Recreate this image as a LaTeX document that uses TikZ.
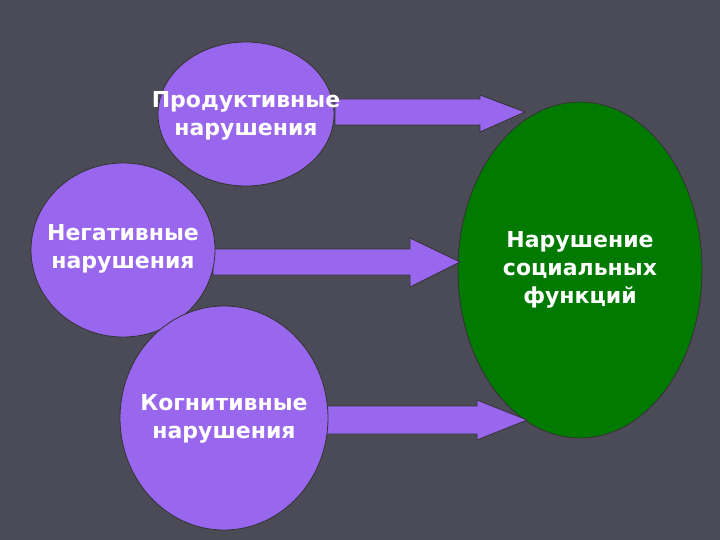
\documentclass[tikz,border=0pt]{standalone}
\usepackage{fontspec}
\setmainfont{DejaVu Sans}
\begin{document}
\begin{tikzpicture}[x=1pt,y=-1pt,
  circ/.style={fill=purp,draw=black!80,line width=0.8pt},
  blk/.style={fill=purp,draw=black!80,line width=0.8pt},
  lbl/.style={text=white,align=center,font=\bfseries\fontsize{22}{28}\selectfont}]
\definecolor{purp}{HTML}{9966EE}
\definecolor{grn}{HTML}{007A00}
\definecolor{bg}{HTML}{4B4B57}
\fill[bg] (0,0) rectangle (720,540);
\useasboundingbox (0,0) rectangle (720,540);
% green ellipse
\draw[fill=grn,draw=black!80,line width=0.8pt] (580,270) ellipse [x radius=122, y radius=168];
\node[lbl] (g) at (580,270) {Нарушение\\социальных\\функций};
% arrows
\draw[blk] (335,99) -- (480,99) -- (480,95) -- (525,112) -- (480,132) -- (480,125) -- (335,125) -- cycle;
\draw[blk] (213,249) -- (410,249) -- (410,238) -- (460,262) -- (410,287) -- (410,275) -- (213,275) -- cycle;
\draw[blk] (325,406) -- (477,406) -- (477,400) -- (527,420) -- (477,440) -- (477,434) -- (325,434) -- cycle;
% circles
\draw[circ] (246,114) ellipse [x radius=88, y radius=72];
\node[lbl] (p) at (246,116) {Продуктивные\\нарушения};
\draw[circ] (123,250) ellipse [x radius=92, y radius=87];
\node[lbl] (n) at (123,249) {Негативные\\нарушения};
\draw[circ] (224,418) ellipse [x radius=104, y radius=112];
\node[lbl] (k) at (224,419) {Когнитивные\\нарушения};
\end{tikzpicture}
\end{document}
